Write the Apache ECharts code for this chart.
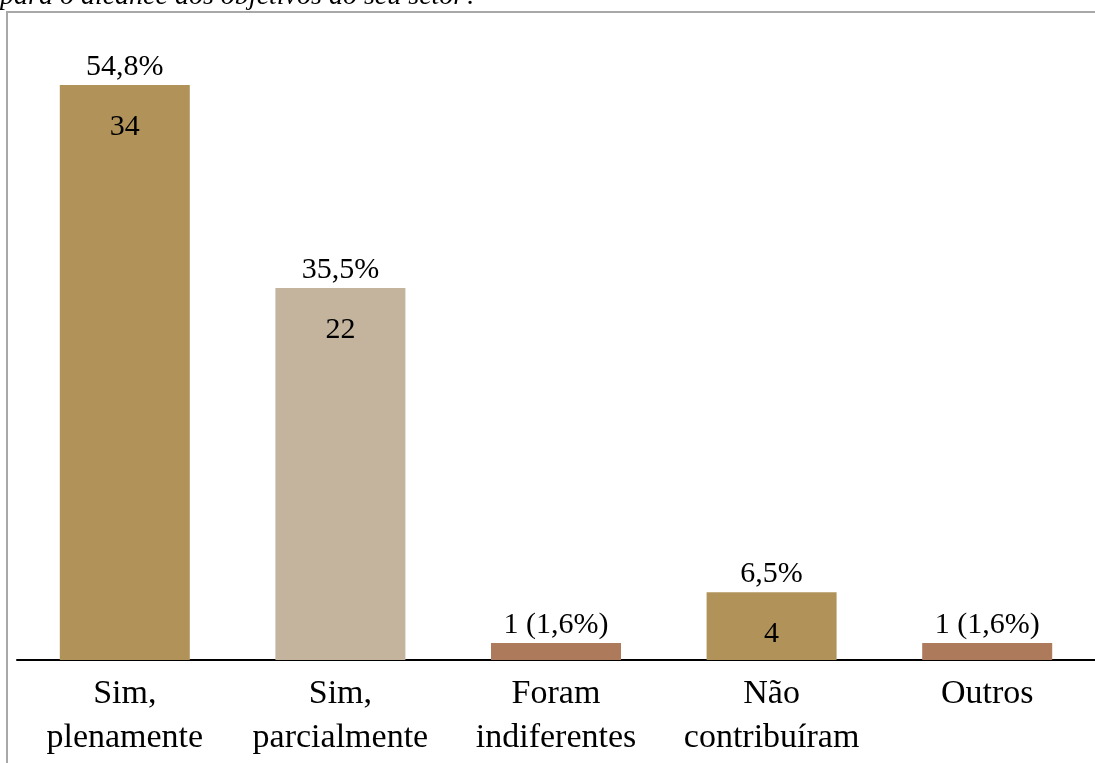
<!DOCTYPE html>
<html><head><meta charset="utf-8">
<script src="https://cdn.jsdelivr.net/npm/echarts@6/dist/echarts.min.js"></script>
<style>html,body{margin:0;padding:0;background:#fff}#c{width:1095px;height:763px}</style>
</head><body><div id="c"></div>
<script>
const categories = ["Sim,\nplenamente", "Sim,\nparcialmente", "Foram\nindiferentes", "Não\ncontribuíram", "Outros"];
const counts = [34, 22, 1, 4, 1];
const topLabels = ["54,8%", "35,5%", "1 (1,6%)", "6,5%", "1 (1,6%)"];
const insideLabels = ["34", "22", "", "4", ""];
const barColors = ["#B19359", "#C4B39D", "#AE7A5C", "#B19359", "#AE7A5C"];

const serif = "'Liberation Serif','DejaVu Serif',serif";
const chart = echarts.init(document.getElementById('c'));
chart.setOption({
  animation: false,
  graphic: [
    {type: 'rect', shape: {x: 7, y: 12, width: 1100, height: 800}, style: {fill: 'none', stroke: '#a8a8a8', lineWidth: 2}, z: 0},
    {type: 'text', left: 0, top: -17, style: {text: 'para o alcance dos objetivos do seu setor?', font: 'italic 28px ' + serif, fill: '#000'}}
  ],
  grid: {left: 17, right: -16, top: 85, bottom: 103},
  xAxis: {
    type: 'category', data: categories,
    axisLine: {lineStyle: {color: '#000', width: 2}},
    axisTick: {show: false},
    axisLabel: {fontFamily: serif, fontSize: 34, color: '#000', lineHeight: 44, margin: 12, interval: 0}
  },
  yAxis: {type: 'value', min: 0, max: 34, show: false, splitLine: {show: false}},
  series: [
    {
      type: 'bar', barWidth: 130,
      data: counts.map((v, i) => ({value: v, itemStyle: {color: barColors[i]}})),
      label: {show: true, position: 'top', distance: 3, fontFamily: serif, fontSize: 30, color: '#000',
        formatter: p => topLabels[p.dataIndex]}
    },
    {
      type: 'bar', barWidth: 130, barGap: '-100%', silent: true,
      data: counts.map(v => ({value: v, itemStyle: {color: 'transparent'}})),
      label: {show: true, position: 'insideTop', distance: 27, fontFamily: serif, fontSize: 30, color: '#000',
        formatter: p => insideLabels[p.dataIndex]}
    }
  ]
});
</script></body></html>
